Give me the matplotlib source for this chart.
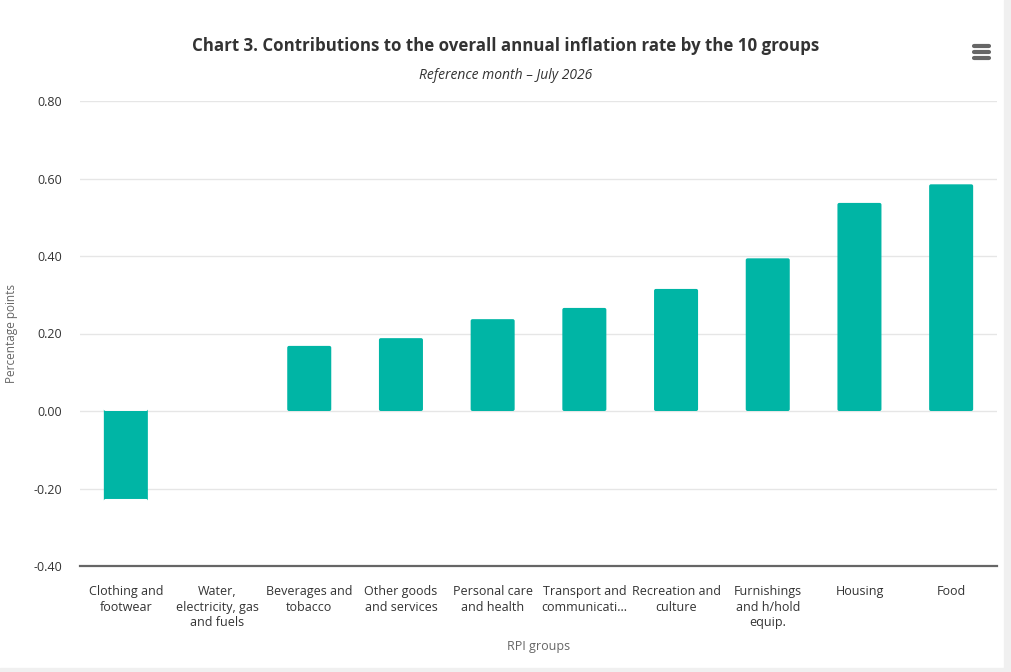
import matplotlib
matplotlib.use('Agg')
import matplotlib.pyplot as plt
from matplotlib.lines import Line2D
from matplotlib.patches import Rectangle, FancyBboxPatch

plt.rcParams['font.family'] = ['Open Sans', 'DejaVu Sans']

groups = ['Clothing and\nfootwear', 'Water,\nelectricity, gas\nand fuels',
          'Beverages and\ntobacco', 'Other goods\nand services',
          'Personal care\nand health', 'Transport and\ncommunicati...',
          'Recreation and\nculture', 'Furnishings\nand h/hold\nequip.',
          'Housing', 'Food']
contrib = [-0.227, 0.0, 0.168, 0.188, 0.237, 0.266, 0.315, 0.394, 0.537, 0.585]
yticks = [-0.40, -0.20, 0.00, 0.20, 0.40, 0.60, 0.80]

W, H = 1011, 672
ax_w, ax_h = 917, 465

fig = plt.figure(figsize=(W / 100, H / 100), dpi=100)
ax = fig.add_axes([80 / W, 1 - 566 / H, ax_w / W, ax_h / H])

x = range(len(groups))
bars = ax.bar(x, contrib, width=0.48, color='#00b5a5', zorder=3)
# swap the square bars for slightly rounded ones
aspect = (1.2 / ax_h) / (len(groups) / ax_w)
for b in bars:
    b.set_visible(False)
    if b.get_height() == 0:
        continue
    ax.add_patch(FancyBboxPatch((b.get_x(), b.get_y()), b.get_width(), b.get_height(),
                                boxstyle='round,pad=0,rounding_size=0.02',
                                mutation_aspect=aspect,
                                color='#00b5a5', linewidth=0, zorder=3))

ax.set_xlim(-0.5, len(groups) - 0.5)
ax.set_ylim(-0.40, 0.80)
ax.set_yticks(yticks)
ax.set_yticklabels(['%.2f' % v for v in yticks])
ax.set_xticks(list(x))
ax.set_xticklabels(groups, linespacing=1.25)
ax.tick_params(axis='both', length=0, labelsize=9, labelcolor='#333333')
ax.tick_params(axis='x', pad=14)
ax.tick_params(axis='y', pad=13)

ax.grid(axis='y', color='#e6e6e6', linewidth=1, zorder=0)
for s in ['top', 'right', 'left']:
    ax.spines[s].set_visible(False)
ax.spines['bottom'].set_color('#666666')
ax.spines['bottom'].set_linewidth(1.6)
ax.spines['bottom'].set_zorder(4)

ax.set_ylabel('Percentage points', fontsize=8.5, color='#666666')
ax.yaxis.set_label_coords(-62 / ax_w, 0.5)
ax.set_xlabel('RPI groups', fontsize=9, color='#666666')
ax.xaxis.set_label_coords(0.5, -74 / ax_h)

fig.text(0.5, 1 - 46 / H, 'Chart 3. Contributions to the overall annual inflation rate by the 10 groups',
         ha='center', va='center', fontsize=12.2, fontweight='bold', color='#333333')
fig.text(0.5, 1 - 75.5 / H, 'Reference month \u2013 July 2026',
         ha='center', va='center', fontsize=10, style='italic', color='#333333')

# menu icon
for yy in (46, 52, 58):
    fig.add_artist(Line2D([974 / W, 989 / W], [1 - yy / H] * 2,
                          color='#666666', linewidth=3, solid_capstyle='round'))

# light frame at the right and bottom edge
fig.add_artist(Rectangle((1004 / W, 0), 7 / W, 1, transform=fig.transFigure,
                         color='#f0f0f0', zorder=0))
fig.add_artist(Rectangle((0, 0), 1, 4 / H, transform=fig.transFigure,
                         color='#f0f0f0', zorder=0))

fig.savefig('out.png', dpi=100)
